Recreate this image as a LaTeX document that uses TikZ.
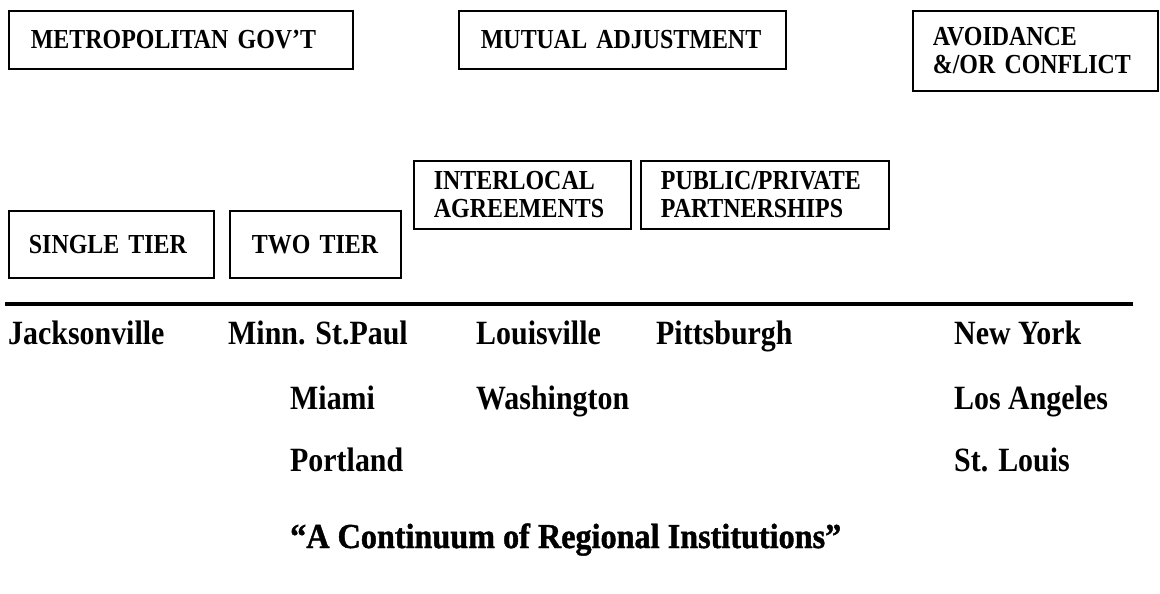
\documentclass[tikz,border=0pt]{standalone}
\usepackage{fontspec}
\setmainfont{Liberation Serif}
\newfontfamily\boxfont[FakeStretch=0.87]{Liberation Serif}
\newfontfamily\cityfont[FakeStretch=0.88]{Liberation Serif}
\newfontfamily\titlefont[FakeStretch=0.92,FakeBold=1.2]{Liberation Serif}
\begin{document}
\begin{tikzpicture}[x=1bp,y=-1bp,
  box/.style={draw, line width=1.8bp, anchor=north west, inner ysep=0pt,
    align=left, font=\boxfont\fontsize{27.5bp}{28bp}\selectfont\bfseries},
  city/.style={anchor=base west, inner sep=0pt,
    font=\cityfont\fontsize{34bp}{34bp}\selectfont\bfseries},
  caption/.style={anchor=base west, inner sep=0pt,
    font=\titlefont\fontsize{35bp}{35bp}\selectfont\bfseries}]
\useasboundingbox (0,0) rectangle (1160,594);

% upper row of categories
\node[box, minimum height=58bp, text width=300bp, inner xsep=22bp] (metro) at (8,10) {METROPOLITAN GOV’T};
\node[box, minimum height=58bp, text width=283bp, inner xsep=22bp] (mutual) at (458,10) {MUTUAL ADJUSTMENT};
\node[box, minimum height=80bp, text width=205bp, inner xsep=20bp] (avoid) at (912,10) {AVOIDANCE\\\&/OR CONFLICT};

% lower row of sub-categories
\node[box, minimum height=67bp, text width=165bp, inner xsep=20bp] (single) at (8,210) {SINGLE TIER};
\node[box, minimum height=67bp, text width=127bp, inner xsep=22bp] (two) at (229,210) {TWO TIER};
\node[box, minimum height=68bp, text width=177bp, inner xsep=20bp] (interlocal) at (413,160) {INTERLOCAL\\AGREEMENTS};
\node[box, minimum height=68bp, text width=208bp, inner xsep=20bp] (public) at (640,160) {PUBLIC/PRIVATE\\PARTNERSHIPS};

% continuum axis
\coordinate (axisL) at (5,304);
\coordinate (axisR) at (1133,304);
\draw[line width=3bp] (axisL) -- (axisR);

% cities
\node[city] (jax) at (8,345) {Jacksonville};
\node[city] (minn) at (228,345) {Minn. St.Paul};
\node[city] (lou) at (476,345) {Louisville};
\node[city] (pitt) at (656,345) {Pittsburgh};
\node[city] (ny) at (954,345) {New York};
\node[city] (miami) at (290,409) {Miami};
\node[city] (wash) at (476,409) {Washington};
\node[city] (la) at (954,409) {Los Angeles};
\node[city] (port) at (290,471) {Portland};
\node[city] (stl) at (954,471) {St. Louis};

% caption
\node[caption] (title) at (290,548) {“A Continuum of Regional Institutions”};
\end{tikzpicture}
\end{document}
